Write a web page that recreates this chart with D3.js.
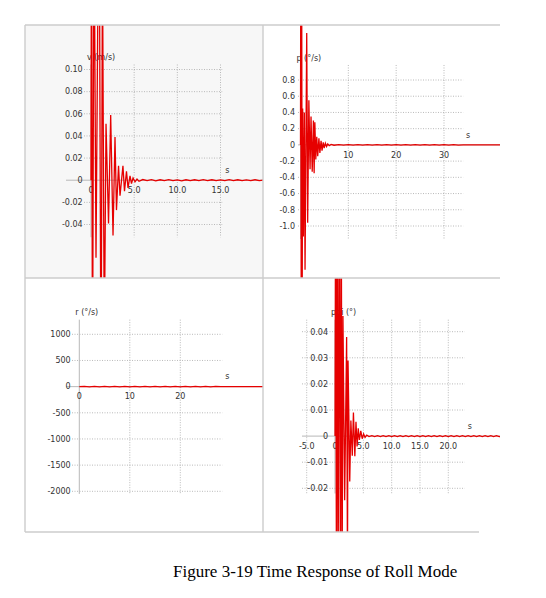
<!DOCTYPE html>
<html><head><meta charset="utf-8">
<script src="https://cdn.jsdelivr.net/npm/d3@7/dist/d3.min.js"></script>
<style>body{margin:0;background:#fff}svg text{font-family:"DejaVu Sans",Verdana,sans-serif}</style>
</head><body>
<svg id="c" width="546" height="598"></svg>
<script>
// ---------- data (time s, value) ----------
const vSeries = [[0,0],[0.06,0.3],[0.17,-0.2],[0.35,0.25],[0.58,-0.07],[0.93,0.3],[1.16,-0.2],[1.33,0.2],[1.54,-0.15],
 [1.74,0.051],[2.03,-0.039],[2.28,0.059],[2.55,-0.05],[2.78,0.039],[2.95,-0.027],[3.19,0.013],[3.36,-0.014],[3.7,0.013],
 [3.88,-0.01],[4.11,0.008],[4.29,-0.007],[4.52,0.004],[4.69,-0.003],[4.87,0.002],[5.1,-0.0015],[5.33,0.001],[5.56,-0.001],
 [6.0,0.0006],[6.5,-0.0004],[7.0,0.0005],[7.5,-0.0005],[8.0,0.0004],[8.5,-0.0003],[9.0,0.0005],[9.5,-0.0004],[10.0,0.0003],
 [10.5,-0.0005],[11.0,0.0004],[11.5,-0.0003],[12.0,0.0004],[12.5,-0.0004],[13.0,0.0005],[13.5,-0.0003],[14.0,0.0004],
 [14.5,-0.0004],[15.0,0.0003],[15.5,-0.0004],[16.0,0.0005],[16.5,-0.0003],[17.0,0.0004],[17.5,-0.0004],[18.0,0.0003],
 [18.5,-0.0003],[19.0,0.0004],[19.5,-0.0003],[20.0,0.0002],[20.5,0]];
const pSeries = [[0,0],[0.05,2],[0.15,-2],[0.25,2],[0.35,-2],[0.45,0.45],[0.6,-1.13],[0.8,0.4],[0.95,-1.54],[1.3,1.38],
 [1.5,-0.96],[1.75,0.55],[2.0,-0.3],[2.2,0.35],[2.45,-0.33],[2.7,0.3],[2.85,-0.35],[3.0,0.28],[3.2,-0.18],[3.4,0.1],
 [3.6,-0.14],[3.85,0.08],[4.05,-0.1],[4.3,0.05],[4.5,-0.07],[4.75,0.03],[4.95,-0.04],[5.2,0.02],[5.45,-0.02],[5.7,0.012],
 [6.0,-0.01],[6.4,0.006],[7,-0.004],[8,0.004],[9,-0.004],[10,0.003],[11,-0.004],[12,0.004],[13,-0.003],[14,0.004],
 [15,-0.004],[16,0.003],[17,-0.004],[18,0.004],[19,-0.003],[20,0.004],[21,-0.004],[22,0.003],[23,-0.004],[24,0.004],
 [25,-0.003],[26,0.004],[27,-0.004],[28,0.003],[29,-0.004],[30,0.004],[31,-0.003],[32,0.003],[33,-0.002],[34,0],[42,0]];
const rSeries = [[0,0],[1,6],[2,-6],[3,5],[4,-6],[5,6],[6,-5],[7,6],[8,-6],[9,5],[10,-6],[11,6],[12,-5],[13,6],[14,-6],
 [15,5],[16,-6],[17,6],[18,-5],[19,6],[20,-6],[21,5],[22,-6],[23,6],[24,-5],[25,6],[26,-6],[27,5],[28,0],[37,0]];
const phiSeries = [[0,0],[0.1,0.1],[0.25,-0.06],[0.4,0.1],[0.55,-0.06],[0.75,0.1],[0.95,-0.06],[1.1,0.1],[1.25,-0.06],
 [1.4,0.046],[1.7,-0.0246],[2.05,0.038],[2.2,-0.05],[2.3,0.029],[2.6,-0.0174],[2.8,0.006],[3.05,-0.0075],[3.25,0.009],
 [3.5,-0.0077],[3.7,0.0055],[3.9,-0.004],[4.1,0.003],[4.3,-0.0015],[4.55,0.002],[4.8,-0.001],[5.05,0.0008],[5.3,-0.0005],
 [5.6,0.0004],[6.0,-0.0002],[6.5,0.0002],[7.0,-0.0002],[7.5,0.0002],[8.0,-0.0002],[8.5,0.0002],[9.0,-0.0002],[9.5,0.0002],
 [10.0,-0.0002],[10.5,0.0002],[11.0,-0.0002],[11.5,0.0002],[12.0,-0.0002],[12.5,0.0002],[13.0,-0.0002],[13.5,0.0002],
 [14.0,-0.0002],[14.5,0.0002],[15.0,-0.0002],[15.5,0.0002],[16.0,-0.0002],[16.5,0.0002],[17.0,-0.0002],[17.5,0.0002],
 [18.0,-0.0002],[18.5,0.0002],[19.0,-0.0002],[19.5,0.0002],[20.0,-0.0002],[20.5,0.0002],[21.0,-0.0002],[21.5,0.0002],
 [22.0,-0.0002],[22.5,0.0002],[23.0,-0.0002],[23.5,0.0002],[24.0,-0.0002],[24.5,0.0002],[25.0,-0.0002],[25.5,0.0002],
 [26.0,-0.0002],[26.5,0.0002],[27.0,-0.0002],[27.5,0.0002],[28.0,-0.0002],[28.5,0.0002],[29.0,-0.0002],[29.5,0]];

// ---------- ticks ----------
const vXTicks = [0,5,10,15], vXLabels = ["0","5.0","10.0","15.0"];
const vYTicks = [-0.04,-0.02,0,0.02,0.04,0.06,0.08,0.10], vYLabels = ["-0.04","-0.02","0","0.02","0.04","0.06","0.08","0.10"];
const pXTicks = [10,20,30], pXLabels = ["10","20","30"];
const pYTicks = [-1.0,-0.8,-0.6,-0.4,-0.2,0,0.2,0.4,0.6,0.8], pYLabels = ["-1.0","-0.8","-0.6","-0.4","-0.2","0","0.2","0.4","0.6","0.8"];
const rXTicks = [0,10,20], rXLabels = ["0","10","20"];
const rYTicks = [-2000,-1500,-1000,-500,0,500,1000], rYLabels = ["-2000","-1500","-1000","-500","0","500","1000"];
const phiXTicks = [-5,0,5,10,15,20], phiXLabels = ["-5.0","0","5.0","10.0","15.0","20.0"];
const phiYTicks = [-0.02,-0.01,0,0.01,0.02,0.03,0.04], phiYLabels = ["-0.02","-0.01","0","0.01","0.02","0.03","0.04"];
const titles = ["v (m/s)","p (°/s)","r (°/s)","phi (°)"];
const caption = "Figure 3-19 Time Response of Roll Mode";

// ---------- layout ----------
const panels = [
 {box:[25,25,263,278], bg:"#f7f7f7", data:vSeries, xd:[0,15], xr:[91,220.5], yd:[-0.04,0.10], yr:[224.5,69.5],
  gx:[-2.8,15.2], gy:[-0.0515,0.1045], gridLeft:84, axisLeft:66, labRight:82.7,
  xt:vXTicks, xl:vXLabels, yt:vYTicks, yl:vYLabels, title:titles[0]},
 {box:[263,25,500,278], bg:null, data:pSeries, xd:[0,30], xr:[300.5,444], yd:[-1,0.8], yr:[226,80],
  gx:[-0.5,34], gy:[-1.16,0.985], gridLeft:298, axisLeft:298, labRight:295,
  xt:pXTicks, xl:pXLabels, yt:pYTicks, yl:pYLabels, title:titles[1]},
 {box:[25,278,263,532], bg:null, data:rSeries, xd:[0,20], xr:[79.3,180.3], yd:[-2000,1000], yr:[491.3,334.3],
  gx:[-1.4,28.3], gy:[-2050,1280], gridLeft:72, axisLeft:66, labRight:70.7,
  xt:rXTicks, xl:rXLabels, yt:rYTicks, yl:rYLabels, title:titles[2]},
 {box:[263,278,500,532], bg:null, data:phiSeries, xd:[-5,20], xr:[306.7,448.3], yd:[-0.02,0.04], yr:[488.3,331.7],
  gx:[-5.8,22.9], gy:[-0.022,0.0446], gridLeft:302, axisLeft:302, labRight:328,
  xt:phiXTicks, xl:phiXLabels, yt:phiYTicks, yl:phiYLabels, title:titles[3]}
];

const svg = d3.select("#c");
const defs = svg.append("defs");
const fs = 8, txt = "#333", gridC = "#a8a8a8", axisC = "#b8b8b8";

panels.forEach((P,i) => {
  const [bx0,by0,bx1,by1] = P.box;
  const x = d3.scaleLinear().domain(P.xd).range(P.xr);
  const y = d3.scaleLinear().domain(P.yd).range(P.yr);
  const g = svg.append("g");
  if (P.bg) g.append("rect").attr("x",bx0).attr("y",by0).attr("width",bx1-bx0).attr("height",by1-by0).attr("fill",P.bg);
  const gTop = y(P.gy[1]), gBot = y(P.gy[0]), gRight = x(P.gx[1]);
  // horizontal grid
  g.selectAll(".hg").data(P.yt.filter(d=>d!==0)).join("line")
    .attr("x1",P.gridLeft).attr("x2",gRight).attr("y1",d=>y(d)).attr("y2",d=>y(d))
    .attr("stroke",gridC).attr("stroke-width",0.8).attr("stroke-dasharray","1,1.5");
  // vertical grid
  g.selectAll(".vg").data(P.xt.filter(d=>d!==0)).join("line")
    .attr("x1",d=>x(d)).attr("x2",d=>x(d)).attr("y1",gTop).attr("y2",gBot)
    .attr("stroke",gridC).attr("stroke-width",0.8).attr("stroke-dasharray","1,1.5");
  // axes
  g.append("line").attr("x1",x(0)).attr("x2",x(0)).attr("y1",gTop).attr("y2",gBot).attr("stroke",axisC).attr("stroke-width",1);
  g.append("line").attr("x1",P.axisLeft).attr("x2",bx1).attr("y1",y(0)).attr("y2",y(0)).attr("stroke",axisC).attr("stroke-width",1);
  // y labels
  g.selectAll(".yl").data(P.yt).join("text")
    .attr("x",P.labRight).attr("y",d=>y(d)).attr("dy","0.35em").attr("text-anchor","end")
    .attr("font-size",fs).attr("fill",txt).text((d,j)=>P.yl[j]);
  // x labels
  g.selectAll(".xl").data(P.xt).join("text")
    .attr("x",d=>x(d)).attr("y",y(0)+10).attr("dy","0.35em").attr("text-anchor","middle")
    .attr("font-size",fs).attr("fill",txt).text((d,j)=>P.xl[j]);
  // titles
  g.append("text").attr("x",x(0)-4).attr("y",gTop-7).attr("dy","0.35em").attr("font-size",fs).attr("fill",txt).text(P.title);
  g.append("text").attr("x",gRight+5).attr("y",y(0)-10).attr("dy","0.35em").attr("text-anchor","middle")
    .attr("font-size",fs).attr("fill",txt).text("s");
  // data
  defs.append("clipPath").attr("id","cp"+i).append("rect")
    .attr("x",bx0).attr("y",by0).attr("width",bx1-bx0).attr("height",by1-by0);
  const line = d3.line().x(d=>x(d[0])).y(d=>y(d[1]));
  g.append("path").attr("clip-path",`url(#cp${i})`).attr("d",line(P.data))
    .attr("fill","none").attr("stroke","#e60000").attr("stroke-width",1.3).attr("stroke-linejoin","miter");
});

// panel borders
const bC = "#cccccc";
[[25,25,500,25],[25,278,500,278],[25,532,479,532],[25,25,25,532],[263,25,263,532]].forEach(l=>{
  svg.append("line").attr("x1",l[0]).attr("y1",l[1]).attr("x2",l[2]).attr("y2",l[3]).attr("stroke",bC).attr("stroke-width",1.4);
});

svg.append("text").attr("x",173).attr("y",577).attr("font-size",17)
  .attr("style","font-family:'Liberation Serif','Times New Roman',serif").attr("fill","#000").text(caption);
</script>
</body></html>
